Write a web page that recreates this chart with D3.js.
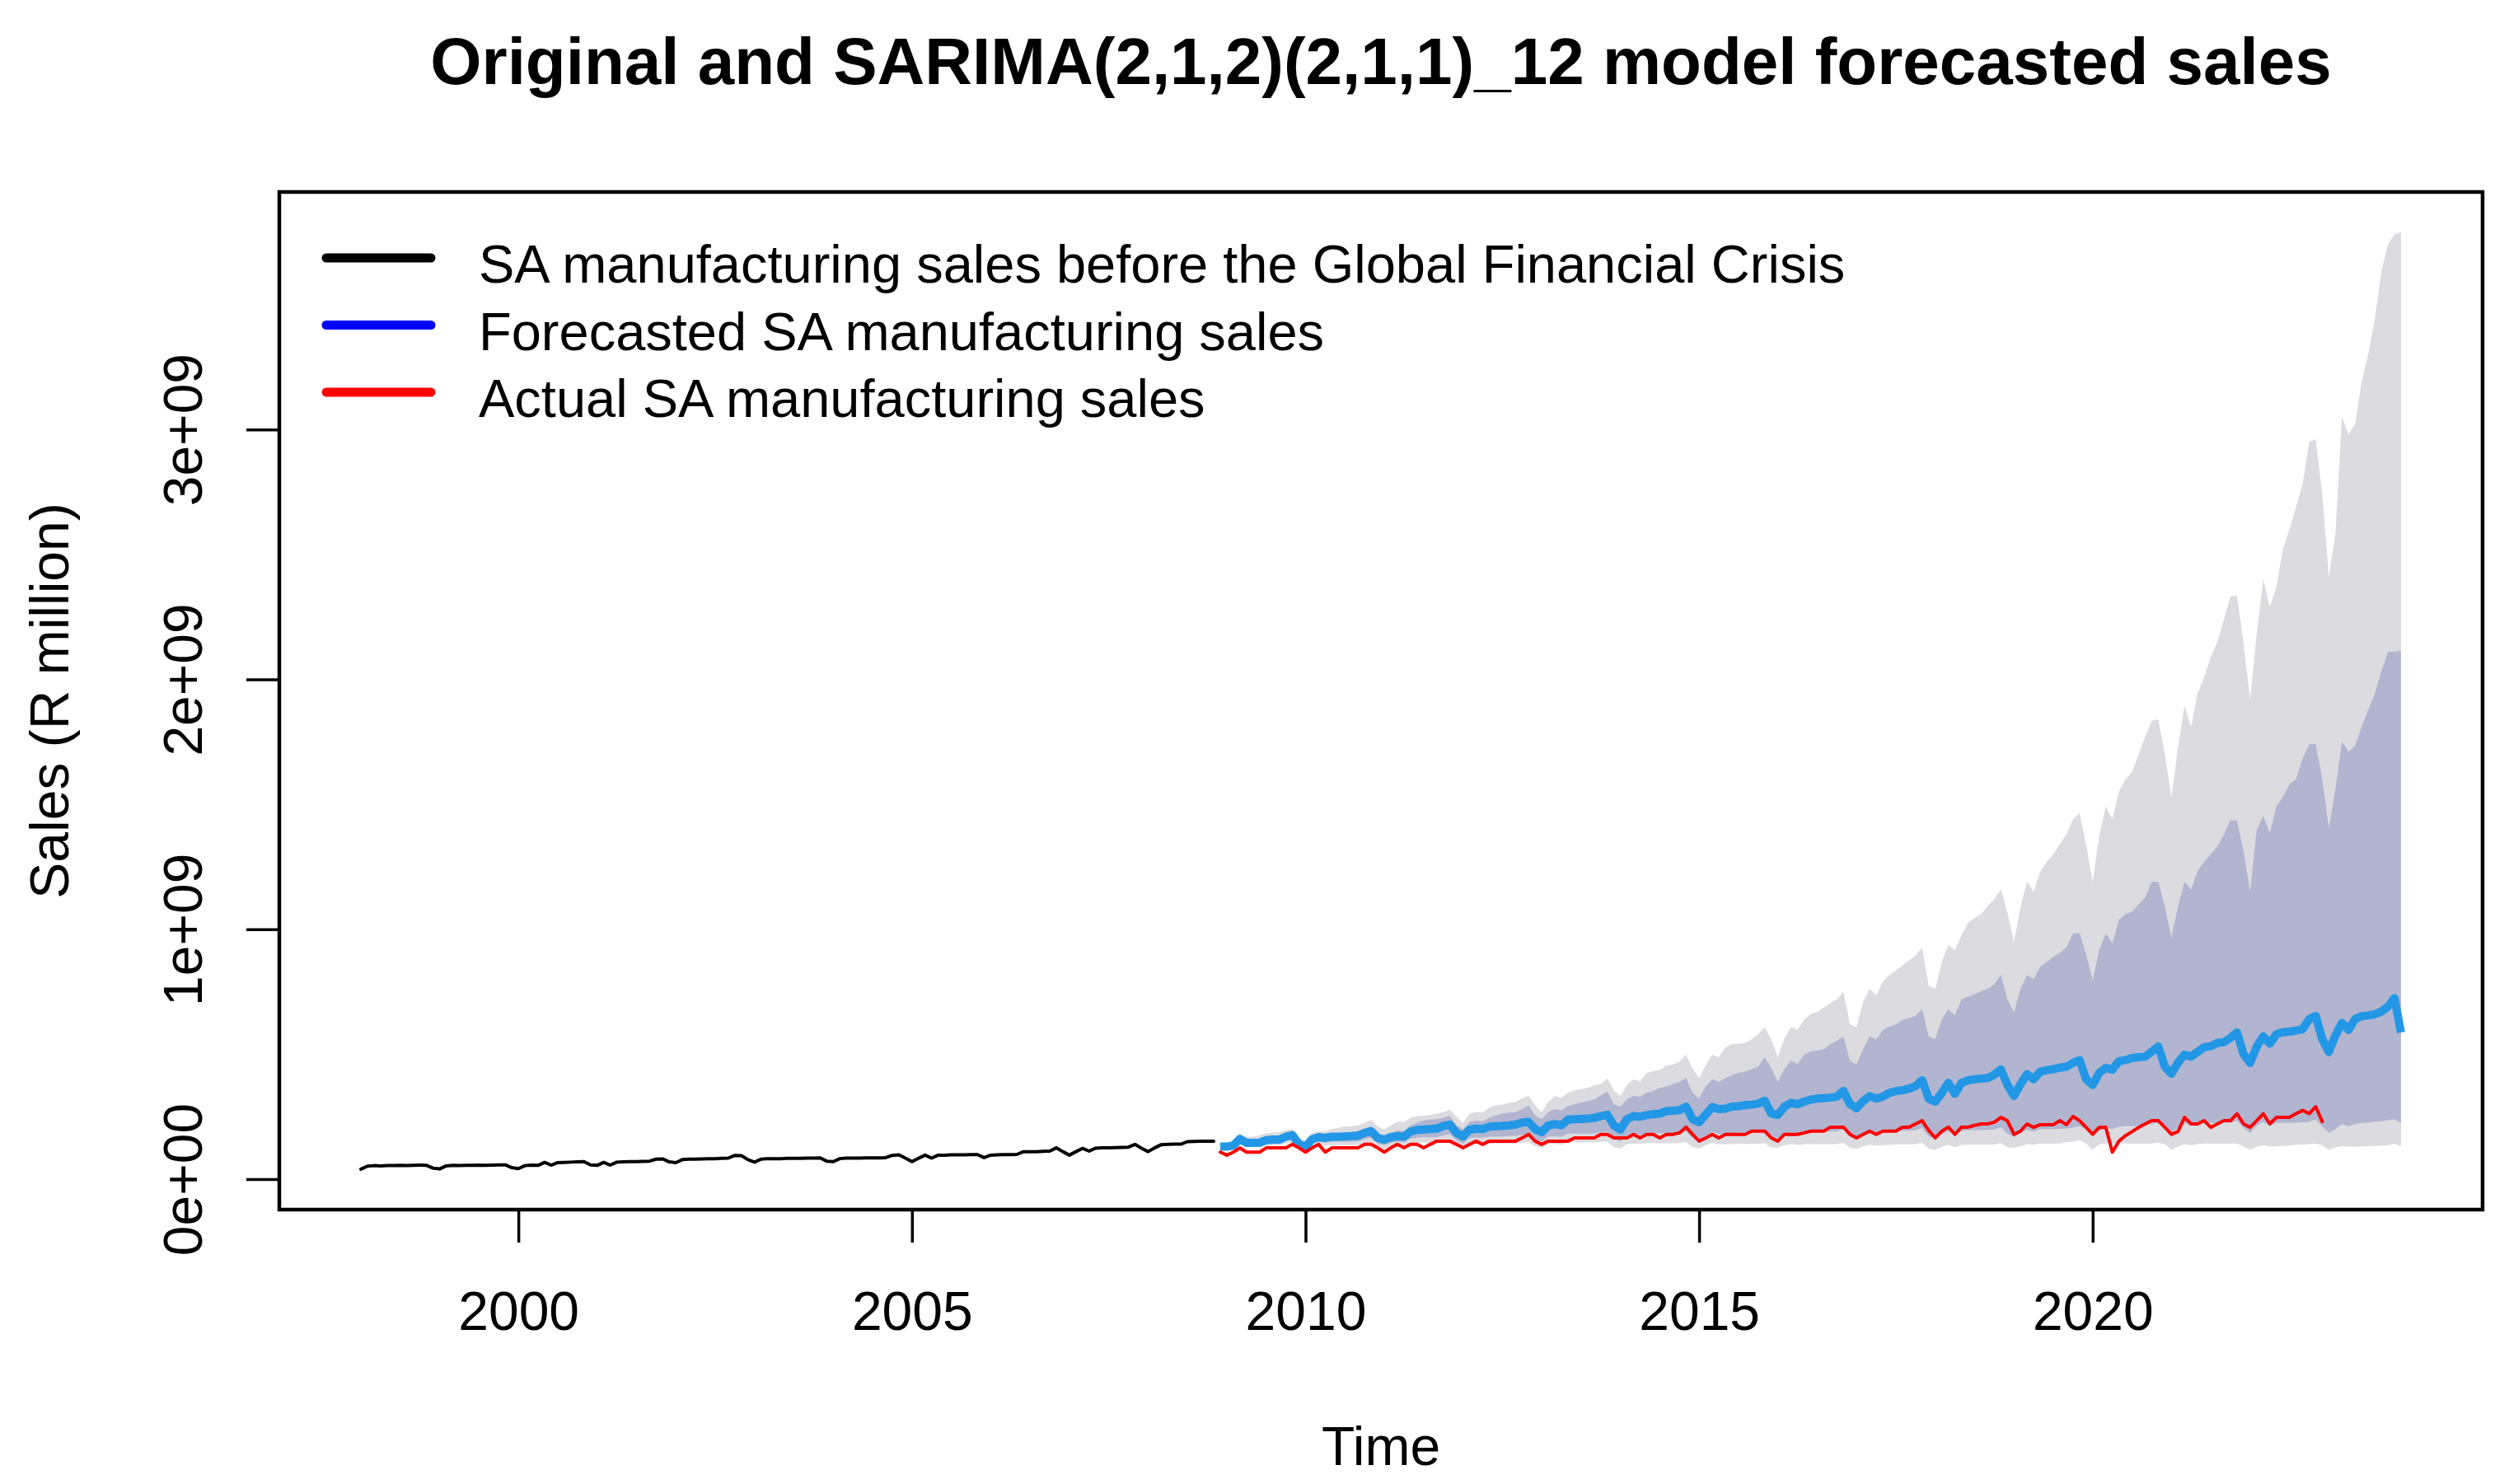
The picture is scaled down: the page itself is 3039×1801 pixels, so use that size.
<!DOCTYPE html>
<html>
<head>
<meta charset="utf-8">
<script src="https://cdn.jsdelivr.net/npm/d3@7"></script>
<style>
  body { margin: 0; background: #fff; }
  text { font-family: "Liberation Sans", Arial, sans-serif; fill: #000; }
</style>
</head>
<body>
<svg id="chart"></svg>
<script>
// values are in R million, monthly
const UNIT = 1e6;

// SA manufacturing sales, Jan 1998 - Nov 2008
const histStart = 1998;
const histSales = [
  40, 52, 54, 53, 54, 54, 55, 54, 55, 56, 55, 44,
  41, 53, 55, 54, 55, 55, 56, 55, 56, 57, 57, 46,
  42, 54, 56, 55, 67, 56, 66, 67, 68, 69, 70, 57,
  55, 67, 56, 68, 69, 70, 70, 71, 72, 80, 81, 69,
  66, 78, 80, 80, 81, 82, 82, 83, 84, 95, 94, 78,
  68, 80, 82, 82, 82, 83, 83, 83, 84, 84, 85, 72,
  70, 82, 84, 84, 84, 85, 85, 85, 86, 95, 97, 84,
  70, 83, 96, 84, 96, 96, 97, 97, 97, 98, 98, 86,
  96, 97, 98, 98, 99, 110, 110, 110, 111, 112, 125, 110,
  96, 110, 123, 112, 124, 125, 125, 126, 127, 128, 139, 124,
  110, 125, 138, 139, 140, 140, 150, 151, 152, 152, 152
];

// forecast and intervals, Dec 2008 - Dec 2023
const fcStart = 2008 + 11 / 12;
const forecast = [
  130,
  130, 135, 161, 145, 145, 146, 156, 158, 158, 170, 176, 140,
  130, 160, 168, 165, 170, 170, 171, 172, 174, 185, 192, 165,
  158, 168, 172, 170, 190, 197, 199, 200, 202, 212, 218, 185,
  170, 198, 202, 200, 210, 212, 213, 215, 218, 226, 229, 200,
  188, 215, 220, 216, 238, 240, 241, 242, 245, 252, 258, 215,
  198, 240, 252, 250, 256, 260, 262, 272, 274, 276, 290, 240,
  228, 258, 288, 280, 282, 290, 292, 296, 298, 302, 314, 262,
  257, 290, 305, 300, 310, 318, 322, 324, 326, 330, 353, 300,
  284, 312, 332, 322, 330, 345, 352, 356, 362, 372, 396, 322,
  310, 345, 385, 342, 385, 395, 400, 402, 405, 418, 439, 377,
  333, 380, 420, 400, 430, 436, 440, 446, 450, 465, 476, 400,
  377, 425, 445, 438, 472, 476, 485, 488, 490, 510, 531, 450,
  422, 465, 498, 490, 509, 528, 532, 545, 548, 565, 587, 500,
  465, 530, 571, 542, 580, 588, 590, 595, 600, 640, 653, 560,
  509, 575, 625, 597, 640, 652, 655, 660, 670, 690, 724, 587
];
const upper95 = [
  132,
  136, 145, 178, 170, 170, 175, 184, 186, 188, 196, 200, 165,
  152, 185, 192, 190, 200, 205, 210, 212, 215, 225, 238, 210,
  199, 215, 230, 228, 245, 252, 254, 256, 262, 268, 278, 250,
  224, 262, 268, 266, 285, 295, 298, 305, 308, 323, 333, 295,
  267, 310, 333, 325, 345, 355, 360, 365, 375, 380, 403, 355,
  333, 377, 400, 390, 425, 432, 436, 455, 458, 470, 498, 443,
  405, 455, 498, 487, 526, 540, 542, 545, 559, 580, 608, 559,
  488, 564, 608, 597, 636, 660, 669, 686, 705, 719, 749, 620,
  608, 710, 762, 735, 790, 817, 835, 856, 875, 894, 927, 773,
  762, 870, 938, 916, 977, 1026, 1045, 1060, 1092, 1120, 1160, 1066,
  950, 1090, 1190, 1150, 1230, 1270, 1300, 1340, 1380, 1440, 1465, 1338,
  1190, 1373, 1490, 1440, 1550, 1600, 1630, 1700, 1770, 1835, 1840, 1700,
  1525, 1726, 1894, 1810, 1944, 2010, 2090, 2150, 2240, 2330, 2335, 2140,
  1920, 2180, 2400, 2290, 2370, 2520, 2600, 2690, 2780, 2950, 2960, 2740,
  2410, 2580, 3050, 2980, 3020, 3190, 3300, 3440, 3630, 3740, 3780, 3790
];
const upper80 = [
  131,
  134, 142, 168, 155, 156, 158, 168, 170, 172, 180, 185, 152,
  140, 172, 180, 177, 182, 184, 186, 188, 192, 200, 212, 185,
  165, 185, 195, 192, 215, 225, 235, 238, 240, 245, 254, 215,
  200, 228, 235, 232, 245, 255, 262, 266, 268, 280, 295, 255,
  240, 268, 280, 275, 292, 300, 306, 312, 320, 335, 350, 300,
  290, 320, 333, 330, 345, 352, 365, 370, 380, 389, 405, 345,
  323, 370, 400, 389, 405, 416, 425, 430, 440, 450, 488, 444,
  389, 440, 475, 460, 498, 510, 515, 520, 540, 553, 571, 472,
  460, 520, 571, 558, 597, 610, 620, 636, 645, 653, 680, 571,
  560, 640, 680, 655, 719, 730, 740, 752, 762, 779, 817, 719,
  667, 762, 817, 800, 850, 870, 889, 905, 927, 983, 983, 900,
  795, 917, 983, 944, 1037, 1060, 1070, 1100, 1125, 1190, 1190, 1090,
  967, 1090, 1190, 1158, 1235, 1270, 1300, 1330, 1380, 1435, 1435, 1310,
  1150, 1397, 1453, 1386, 1490, 1530, 1580, 1600, 1683, 1740, 1740, 1600,
  1405, 1560, 1750, 1710, 1734, 1810, 1877, 1944, 2030, 2110, 2110, 2115
];
const lower80 = [
  128,
  125, 128, 150, 136, 135, 135, 143, 145, 144, 153, 158, 126,
  118, 143, 150, 146, 150, 150, 150, 150, 151, 160, 166, 143,
  135, 145, 150, 147, 162, 166, 167, 167, 168, 175, 180, 155,
  142, 164, 167, 165, 170, 171, 171, 172, 173, 178, 180, 160,
  150, 170, 172, 169, 182, 182, 182, 182, 183, 186, 190, 160,
  150, 175, 180, 176, 182, 183, 183, 185, 185, 186, 192, 165,
  158, 175, 188, 180, 182, 183, 185, 186, 186, 188, 192, 168,
  165, 180, 186, 182, 185, 188, 189, 189, 190, 190, 200, 170,
  165, 178, 188, 182, 185, 190, 192, 193, 194, 196, 205, 170,
  162, 180, 192, 178, 192, 195, 196, 196, 197, 199, 208, 182,
  168, 185, 198, 190, 200, 200, 200, 201, 202, 206, 212, 200,
  180, 195, 205, 200, 210, 212, 212, 213, 215, 220, 226, 200,
  185, 205, 224, 215, 224, 225, 225, 225, 226, 226, 234, 205,
  185, 214, 228, 215, 225, 225, 226, 226, 227, 230, 239, 210,
  185, 200, 220, 212, 220, 225, 226, 230, 232, 236, 240, 225
];
const lower95 = [
  127,
  122, 124, 144, 130, 128, 128, 135, 136, 135, 143, 146, 118,
  110, 132, 138, 134, 137, 136, 136, 136, 136, 143, 148, 128,
  120, 130, 133, 130, 143, 146, 146, 146, 146, 151, 155, 133,
  122, 140, 142, 139, 143, 143, 143, 143, 143, 146, 148, 132,
  124, 140, 141, 138, 148, 148, 147, 147, 147, 149, 151, 128,
  122, 140, 143, 140, 144, 144, 143, 144, 144, 144, 148, 128,
  124, 136, 145, 139, 140, 140, 141, 141, 141, 142, 144, 127,
  125, 136, 140, 137, 139, 140, 140, 140, 140, 140, 146, 125,
  122, 131, 138, 134, 136, 138, 139, 139, 139, 140, 146, 122,
  118, 130, 138, 128, 137, 138, 138, 138, 138, 139, 144, 128,
  125, 132, 140, 138, 143, 143, 143, 143, 148, 150, 155, 143,
  117, 140, 143, 142, 143, 143, 143, 143, 143, 143, 146, 140,
  117, 130, 140, 135, 140, 143, 143, 143, 143, 143, 143, 130,
  117, 130, 136, 130, 132, 133, 135, 138, 138, 140, 142, 136,
  117, 128, 132, 130, 130, 131, 132, 133, 134, 135, 142, 132
];

// actual sales after the crisis, Dec 2008 - Dec 2022
const actualStart = 2008 + 11 / 12;
const actualSales = [
  108,
  96, 108, 125, 108, 108, 108, 125, 125, 125, 125, 139, 125,
  108, 125, 139, 108, 125, 125, 125, 125, 125, 139, 139, 125,
  108, 125, 139, 125, 139, 139, 125, 139, 152, 152, 152, 139,
  125, 139, 152, 139, 152, 152, 152, 152, 152, 165, 179, 152,
  139, 152, 152, 152, 152, 165, 165, 165, 165, 179, 179, 165,
  165, 165, 179, 165, 179, 179, 165, 179, 179, 185, 208, 179,
  152, 165, 179, 165, 179, 179, 179, 179, 192, 192, 192, 165,
  152, 179, 179, 179, 185, 192, 192, 192, 208, 208, 208, 179,
  165, 179, 192, 179, 192, 192, 192, 208, 208, 221, 234, 195,
  165, 192, 208, 179, 208, 208, 215, 221, 221, 228, 247, 234,
  179, 192, 221, 207, 218, 218, 218, 234, 218, 251, 234, 207,
  179, 207, 207, 108, 152, 174, 190, 207, 221, 234, 234, 207,
  179, 190, 247, 221, 221, 234, 207, 221, 234, 234, 262, 221,
  207, 234, 262, 221, 247, 247, 247, 262, 275, 262, 290, 230
];

const xTicks = [2000, 2005, 2010, 2015, 2020];
const yTicks = [0, 1e9, 2e9, 3e9];
const yTickLabels = ["0e+00", "1e+09", "2e+09", "3e+09"];

const legendLabels = [
  "SA manufacturing sales before the Global Financial Crisis",
  "Forecasted SA manufacturing sales",
  "Actual SA manufacturing sales"
];
const legendColors = ["#000000", "#0000ff", "#ff0000"];

const titleText = "Original and SARIMA(2,1,2)(2,1,1)_12 model forecasted sales";

// ---- layout
const width = 3039;
const height = 1801;
const plot = { left: 339, right: 3013, top: 233, bottom: 1468 };

const svg = d3
  .select("#chart")
  .attr("width", width)
  .attr("height", height)
  .attr("viewBox", `0 0 ${width} ${height}`);

svg.append("rect").attr("width", width).attr("height", height).attr("fill", "#fff");

const x = d3.scaleLinear().domain([1996.963, 2024.953]).range([plot.left, plot.right]);
const y = d3.scaleLinear().domain([-0.122e9, 3.95e9]).range([plot.bottom, plot.top]);

function monthly(start, values) {
  return values.map((v, i) => ({ t: start + i / 12, v: v * UNIT }));
}

const bandRows = forecast.map((v, i) => ({
  t: fcStart + i / 12,
  lo95: lower95[i] * UNIT,
  hi95: upper95[i] * UNIT,
  lo80: lower80[i] * UNIT,
  hi80: upper80[i] * UNIT
}));

const g = svg.append("g");

// prediction intervals
g.append("path")
  .datum(bandRows)
  .attr("fill", "#dbdbe0")
  .attr("d", d3.area().x((d) => x(d.t)).y0((d) => y(d.lo95)).y1((d) => y(d.hi95)));

g.append("path")
  .datum(bandRows)
  .attr("fill", "#b1b5cf")
  .attr("d", d3.area().x((d) => x(d.t)).y0((d) => y(d.lo80)).y1((d) => y(d.hi80)));

const line = d3.line().x((d) => x(d.t)).y((d) => y(d.v));

g.append("path")
  .datum(monthly(histStart, histSales))
  .attr("fill", "none")
  .attr("stroke", "#000")
  .attr("stroke-width", 4)
  .attr("stroke-linejoin", "round")
  .attr("stroke-linecap", "round")
  .attr("d", line);

g.append("path")
  .datum(monthly(fcStart, forecast))
  .attr("fill", "none")
  .attr("stroke", "#2297e6")
  .attr("stroke-width", 10)
  .attr("stroke-linejoin", "round")
  .attr("stroke-linecap", "butt")
  .attr("d", line);

g.append("path")
  .datum(monthly(actualStart, actualSales))
  .attr("fill", "none")
  .attr("stroke", "#ff0000")
  .attr("stroke-width", 4)
  .attr("stroke-linejoin", "round")
  .attr("stroke-linecap", "round")
  .attr("d", line);

// box
svg.append("rect")
  .attr("x", plot.left)
  .attr("y", plot.top)
  .attr("width", plot.right - plot.left)
  .attr("height", plot.bottom - plot.top)
  .attr("fill", "none")
  .attr("stroke", "#000")
  .attr("stroke-width", 4.5);

// x axis
const xAxis = svg
  .append("g")
  .attr("transform", `translate(0,${plot.bottom})`)
  .call(d3.axisBottom(x).tickValues(xTicks).tickSize(40).tickFormat(d3.format("d")));
xAxis.select(".domain").remove();
xAxis.selectAll(".tick line").attr("stroke", "#000").attr("stroke-width", 3.5);
xAxis.selectAll(".tick text")
  .attr("y", 146)
  .attr("dy", 0)
  .style("font-size", "66px")
  .style("font-family", '"Liberation Sans", Arial, sans-serif')
  .attr("fill", "#000");

// y axis
const yAxis = svg
  .append("g")
  .attr("transform", `translate(${plot.left},0)`)
  .call(d3.axisLeft(y).tickValues(yTicks).tickSize(40).tickFormat((d, i) => yTickLabels[i]));
yAxis.select(".domain").remove();
yAxis.selectAll(".tick line").attr("stroke", "#000").attr("stroke-width", 3.5);
yAxis.selectAll(".tick text")
  .attr("transform", "rotate(-90)")
  .attr("x", 0)
  .attr("y", -94)
  .attr("dy", 0)
  .attr("text-anchor", "middle")
  .style("font-size", "66px")
  .style("font-family", '"Liberation Sans", Arial, sans-serif')
  .attr("fill", "#000");

// titles
svg.append("text")
  .attr("x", (plot.left + plot.right) / 2)
  .attr("y", 102)
  .attr("text-anchor", "middle")
  .style("font-size", "80px")
  .style("font-weight", "bold")
  .text(titleText);

svg.append("text")
  .attr("x", (plot.left + plot.right) / 2)
  .attr("y", 1778)
  .attr("text-anchor", "middle")
  .style("font-size", "66px")
  .text("Time");

svg.append("text")
  .attr("transform", `translate(83,${(plot.top + plot.bottom) / 2}) rotate(-90)`)
  .attr("text-anchor", "middle")
  .style("font-size", "66px")
  .text("Sales (R million)");

// legend
const legend = svg.append("g").attr("transform", "translate(396,313)");
const rows = legend
  .selectAll("g")
  .data(legendLabels)
  .join("g")
  .attr("transform", (d, i) => `translate(0,${i * 81.5})`);

rows.append("line")
  .attr("x1", 0)
  .attr("x2", 127)
  .attr("stroke", (d, i) => legendColors[i])
  .attr("stroke-width", 11)
  .attr("stroke-linecap", "round");

rows.append("text")
  .attr("x", 185)
  .attr("y", 30)
  .style("font-size", "65px")
  .text((d) => d);
</script>
</body>
</html>
